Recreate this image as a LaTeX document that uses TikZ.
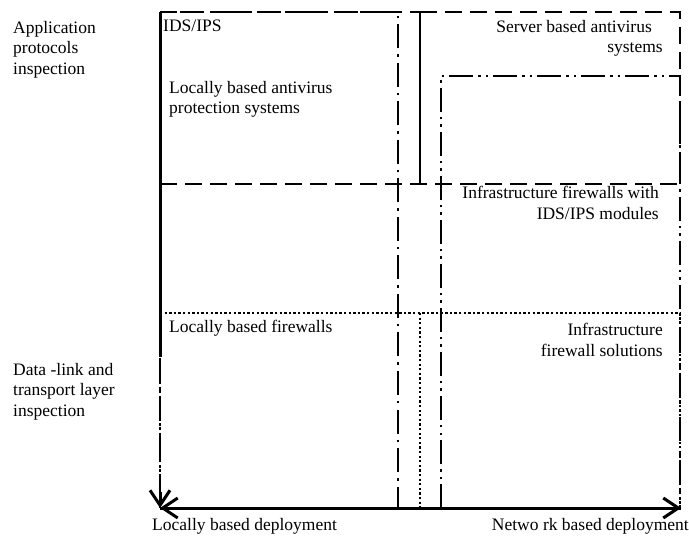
\documentclass[tikz,border=0pt]{standalone}
\usepackage{fontspec}
\setmainfont{Liberation Serif}
\usetikzlibrary{arrows.meta}
\begin{document}
\begin{tikzpicture}[x=1pt,y=-1pt]
\tikzstyle{every node}+=[inner sep=0pt,font=\fontsize{17.5}{20.5}\selectfont]
\tikzstyle{dashbox}=[line width=2.2pt,dash pattern=on 17pt off 8pt]
\tikzstyle{dashdotbox}=[line width=2.2pt,dash pattern=on 24pt off 6pt on 2.5pt off 6pt]
\tikzstyle{dashdotdotbox}=[line width=2.2pt,dash pattern=on 24pt off 5pt on 2.5pt off 5pt on 2.5pt off 5pt]
\tikzstyle{dotbox}=[line width=2.6pt,dash pattern=on 2.3pt off 2.3pt]
\tikzstyle{axis}=[line width=3pt]
\tikzstyle{barb}=[-{Straight Barb[length=15pt,width=20pt,line width=3pt]}]
\useasboundingbox (0,0) rectangle (689,540);
\coordinate (ytop) at (160,12);
\coordinate (ybreak) at (160,357);
\coordinate (origin) at (160,508);
\coordinate (xend) at (681,508);
\draw[dashbox] (160,12) -- (420,12);
\draw[dashbox] (160,184) -- (680,184);
\draw[line width=2.2pt] (420,12) -- (420,184);
\draw[dashbox] (420,12) -- (680,12) -- (680,184);
\draw[dashdotbox] (160,12) rectangle (398,508);
\draw[dashdotdotbox] (441,508) -- (441,76) -- (680,76) -- (680,508);
\draw[dotbox] (160,313) -- (680,313) -- (680,508);
\draw[dotbox] (160,313) -- (origin);
\draw[dotbox] (420,313) -- (420,508);
\draw[axis] (ytop) -- (ybreak);
\draw[axis,barb] (160,492) -- (origin);
\draw[axis,barb] (origin) -- (xend);
\draw[axis,barb] (xend) -- (origin);
\node[anchor=north west,align=left] (apptext) at (13,21) {Application\\protocols\\inspection};
\node[anchor=north west,align=left] (linktext) at (13,363) {Data -link and\\transport layer\\inspection};
\node[anchor=base west] (idstext) at (163,32) {IDS/IPS};
\node[anchor=north west,align=left] (localav) at (169,81) {Locally based antivirus\\protection systems};
\node[anchor=north east,align=right] (serverav) at (663,20) {Server based antivirus\hspace*{11pt}\\systems};
\node[anchor=north east,align=right] (infraids) at (659,186) {Infrastructure firewalls with\\IDS/IPS modules};
\node[anchor=base west] (localfw) at (169,333) {Locally based firewalls};
\node[anchor=north east,align=right] (infrafw) at (663,323) {Infrastructure\\firewall solutions};
\node[anchor=base west] (localdep) at (152,530) {Locally based deployment};
\node[anchor=base east] (netdep) at (689,530) {Netwo rk based deployment};
\end{tikzpicture}
\end{document}
